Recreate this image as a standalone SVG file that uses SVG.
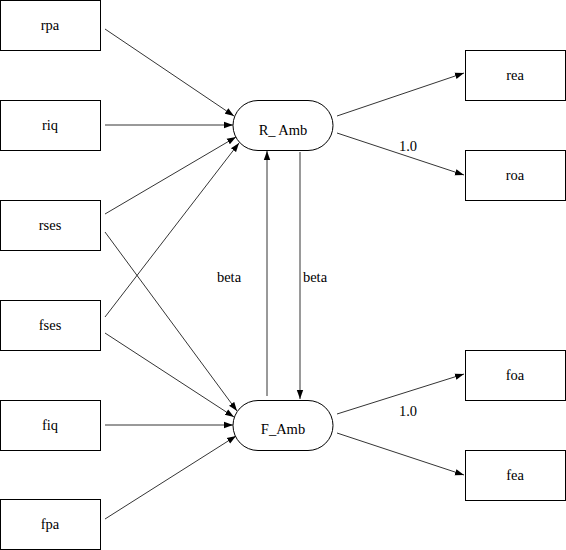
<svg xmlns="http://www.w3.org/2000/svg" width="566" height="550" viewBox="0 0 566 550" font-family="Liberation Serif, DejaVu Serif, serif" font-size="14.5" text-anchor="middle">
<defs>
<style>
.box{fill:#fff;stroke:#000;stroke-width:1}
.e{stroke:#000;stroke-width:0.8;fill:none;marker-end:url(#ah)}
</style>
<marker id="ah" markerUnits="userSpaceOnUse" markerWidth="10" markerHeight="8" refX="9" refY="4" orient="auto">
<path d="M0,0.8 L9,4 L0,7.2 Z" fill="#000"/>
</marker>
</defs>
<rect width="566" height="550" fill="#fff"/>
<g id="connectors">
<line class="e" x1="105" y1="29" x2="234" y2="116"/>
<line class="e" x1="105" y1="125" x2="233" y2="125"/>
<line class="e" x1="105" y1="214" x2="236" y2="137"/>
<line class="e" x1="105" y1="317" x2="239" y2="143"/>
<line class="e" x1="105" y1="232" x2="237" y2="411"/>
<line class="e" x1="105" y1="333" x2="234" y2="417"/>
<line class="e" x1="105" y1="425" x2="233" y2="425"/>
<line class="e" x1="105" y1="519" x2="236" y2="436"/>
<line class="e" x1="337" y1="116" x2="464" y2="73"/>
<line class="e" x1="337" y1="133" x2="464" y2="175"/>
<line class="e" x1="337" y1="414" x2="464" y2="374"/>
<line class="e" x1="337" y1="433" x2="464" y2="475"/>
<line class="e" x1="267" y1="396" x2="267" y2="151"/>
<line class="e" x1="300" y1="152" x2="300" y2="399"/>
<text x="408" y="151" font-family="Liberation Serif">1.0</text>
<text x="408" y="416" font-family="Liberation Serif">1.0</text>
<text x="229" y="282" font-family="Liberation Serif">beta</text>
<text x="315" y="282" font-family="Liberation Serif">beta</text>
</g>
<g id="rpa"><rect class="box" x="0.5" y="0.5" width="100" height="50"/><text x="50" y="30" font-family="Liberation Serif">rpa</text></g>
<g id="riq"><rect class="box" x="0.5" y="100.5" width="100" height="50"/><text x="50" y="130" font-family="Liberation Serif">riq</text></g>
<g id="rses"><rect class="box" x="0.5" y="200.5" width="100" height="50"/><text x="50" y="230" font-family="Liberation Serif">rses</text></g>
<g id="fses"><rect class="box" x="0.5" y="300.5" width="100" height="50"/><text x="50" y="330" font-family="Liberation Serif">fses</text></g>
<g id="fiq"><rect class="box" x="0.5" y="400.5" width="100" height="50"/><text x="50" y="430" font-family="Liberation Serif">fiq</text></g>
<g id="fpa"><rect class="box" x="0.5" y="499.5" width="100" height="50"/><text x="50" y="529" font-family="Liberation Serif">fpa</text></g>
<g id="R_Amb"><rect class="box" x="233" y="100.5" width="100" height="50" rx="25" ry="25"/><text x="283" y="135" font-family="Liberation Serif">R_ Amb</text></g>
<g id="F_Amb"><rect class="box" x="233" y="400.5" width="100" height="50" rx="25" ry="25"/><text x="283" y="434" font-family="Liberation Serif">F_Amb</text></g>
<g id="rea"><rect class="box" x="465.5" y="50.5" width="100" height="50"/><text x="515" y="80" font-family="Liberation Serif">rea</text></g>
<g id="roa"><rect class="box" x="465.5" y="150.5" width="100" height="50"/><text x="515" y="180" font-family="Liberation Serif">roa</text></g>
<g id="foa"><rect class="box" x="465.5" y="350.5" width="100" height="50"/><text x="515" y="380" font-family="Liberation Serif">foa</text></g>
<g id="fea"><rect class="box" x="465.5" y="450.5" width="100" height="50"/><text x="515" y="480" font-family="Liberation Serif">fea</text></g>
</svg>
